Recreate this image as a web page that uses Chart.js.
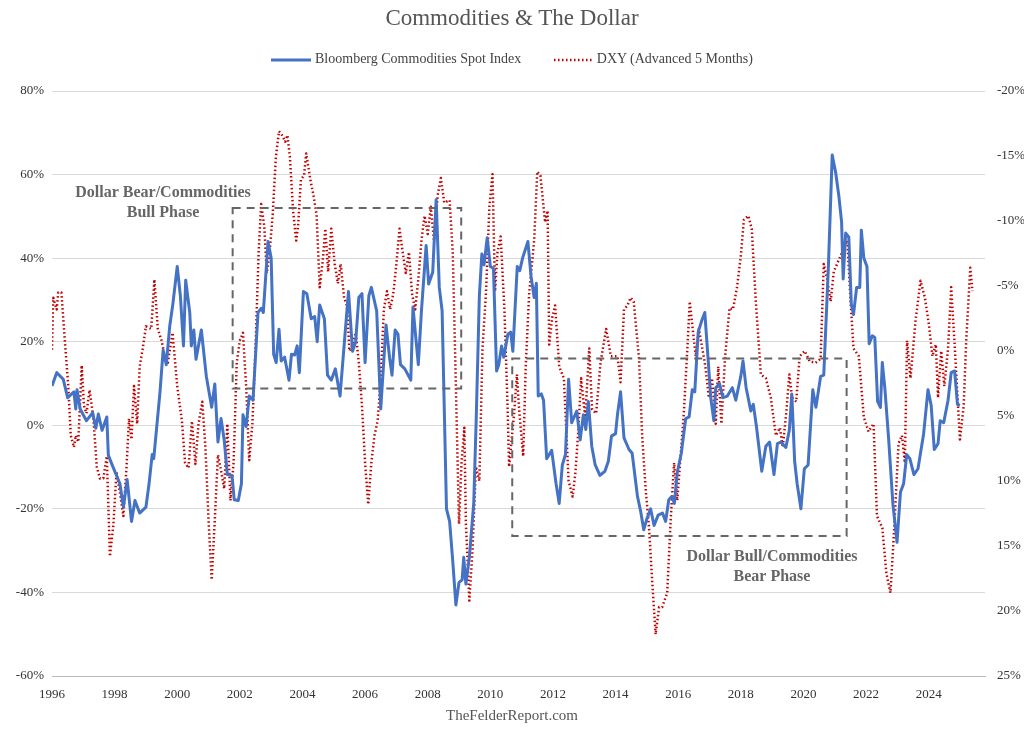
<!DOCTYPE html>
<html>
<head>
<meta charset="utf-8">
<script src="https://cdn.jsdelivr.net/npm/chart.js@4/dist/chart.umd.min.js"></script>
<style>
  body { margin: 0; background: #fff; font-family: "Liberation Serif", serif; }
  #wrap { position: relative; width: 1024px; height: 738px; }
  #title { position: absolute; top: 5px; width: 100%; text-align: center; font-size: 23px; color: #555; }
  #legend { position: absolute; top: 51px; width: 100%; text-align: center; font-size: 14px; color: #444; }
  #legend span { margin: 0 14px; }
  #legend svg { vertical-align: middle; margin-right: 4px; }
  #foot { position: absolute; top: 707px; width: 100%; text-align: center; font-size: 15px; color: #555; }
  canvas { position: absolute; left: 0; top: 0; }
</style>
</head>
<body>
<div id="wrap">
  <canvas id="grafico" width="1024" height="738"></canvas>
  <div id="title">Commodities &amp; The Dollar</div>
  <div id="legend">
    <span><svg width="40" height="6"><line x1="0" y1="3" x2="40" y2="3" stroke="#4472C4" stroke-width="3"/></svg>Bloomberg Commodities Spot Index</span>
    <span><svg width="40" height="6"><line x1="1" y1="3" x2="40" y2="3" stroke="#C00000" stroke-width="2.5" stroke-dasharray="1.5 2.5"/></svg>DXY (Advanced 5 Months)</span>
  </div>
  <div id="foot">TheFelderReport.com</div>
</div>
<script>
const commodYears = [1996.0,1996.15,1996.36,1996.5,1996.7,1996.76,1996.8,1996.9,1997.1,1997.3,1997.4,1997.48,1997.6,1997.75,1997.8,1997.95,1998.17,1998.28,1998.4,1998.54,1998.65,1998.8,1999.0,1999.1,1999.2,1999.25,1999.45,1999.55,1999.65,1999.76,1999.86,2000.0,2000.1,2000.2,2000.27,2000.4,2000.45,2000.53,2000.6,2000.77,2000.93,2001.1,2001.2,2001.3,2001.4,2001.5,2001.6,2001.75,2001.82,2001.95,
  2002.05,2002.1,2002.2,2002.3,2002.42,2002.58,2002.68,2002.75,2002.9,2003.0,2003.08,2003.16,2003.25,2003.32,2003.43,2003.57,2003.65,2003.75,2003.83,2003.9,2004.03,2004.14,2004.28,2004.39,2004.47,2004.55,2004.7,2004.8,2004.92,2005.05,2005.2,2005.34,2005.47,2005.6,2005.7,2005.8,2005.9,2006.0,2006.12,2006.2,2006.37,2006.5,2006.67,2006.78,2006.86,2006.96,2007.05,2007.13,2007.27,2007.46,2007.53,2007.7,2007.8,2007.95,
  2008.03,2008.16,2008.27,2008.37,2008.46,2008.6,2008.7,2008.8,2008.9,2009.0,2009.1,2009.15,2009.22,2009.33,2009.47,2009.55,2009.65,2009.73,2009.8,2009.9,2010.0,2010.1,2010.2,2010.27,2010.36,2010.43,2010.56,2010.65,2010.72,2010.86,2010.94,2011.03,2011.2,2011.3,2011.4,2011.47,2011.53,2011.63,2011.7,2011.8,2011.96,2012.1,2012.2,2012.3,2012.4,2012.5,2012.6,2012.76,2012.87,2012.97,2013.05,2013.13,2013.24,2013.35,2013.5,2013.66,2013.77,2013.87,
  2014.0,2014.06,2014.16,2014.27,2014.43,2014.53,2014.7,2014.8,2014.9,2015.0,2015.12,2015.23,2015.36,2015.5,2015.6,2015.7,2015.8,2015.88,2015.97,2016.1,2016.24,2016.35,2016.45,2016.53,2016.64,2016.75,2016.85,2016.96,2017.04,2017.14,2017.2,2017.32,2017.43,2017.57,2017.73,2017.84,2018.0,2018.07,2018.17,2018.32,2018.4,2018.5,2018.67,2018.8,2018.92,2019.06,2019.17,2019.28,2019.44,2019.55,2019.63,2019.72,2019.8,2019.92,
  2020.03,2020.15,2020.3,2020.4,2020.55,2020.65,2020.8,2020.92,2021.03,2021.13,2021.22,2021.27,2021.35,2021.45,2021.53,2021.6,2021.7,2021.8,2021.85,2021.93,2022.03,2022.1,2022.2,2022.28,2022.37,2022.46,2022.52,2022.6,2022.72,2022.86,2022.99,2023.1,2023.2,2023.3,2023.4,2023.53,2023.66,2023.84,2023.98,2024.08,2024.18,2024.3,2024.37,2024.48,2024.62,2024.72,2024.83,2024.92,2025.0];
const commodValues = [9.4,12.6,11,6.6,8,3.9,8.5,3.9,1.1,3,-0.7,2.7,-1.2,2,-7.2,-10,-14,-19.6,-13,-23,-18,-21,-19.6,-14,-7,-8,8,18,14.5,23.7,29,38,31,19,34.7,27,19,22.8,15.8,22.8,11.7,4.3,9.9,-4,1.6,-3.5,-11.8,-12,-17.8,-18,
  -14,2.5,-0.3,7,6,27,28,27,44,40,17,15,23,15.4,16.3,10.8,17,16.8,19,12.6,32,31.5,25.5,26,20,28.8,25.5,12,10.8,13.5,7,20,32,17.7,20,30.6,31.5,15,31,33,27.4,3.9,24,16.3,12,22.8,21.8,14.5,13.5,10.8,28.3,14.5,27.4,43,
  33.8,36.6,54,33,27.4,-20,-23,-32.5,-43,-37.6,-37,-31.6,-38,-31.6,-18.7,1.6,31,41,38.4,44.9,38,37.5,13,14.5,19,16.3,21.8,22.3,17.7,38,37,40,44,35.7,30.6,34,7,7.5,6,-8,-6,-14,-18.7,-9.5,-7,11,0.6,3.4,-3.5,2.5,-1,5.7,-5,-9.5,-12,-11,-8.6,-2.6,
  -2,2.5,8,-3,-5.8,-6.7,-17,-20.5,-25,-22.4,-20,-24,-21.5,-21,-23,-17.8,-17,-18.7,-11.3,-6.7,1.6,2,8.5,8,22.3,25,27,15.4,6.6,1.1,9,10,6.6,7,9,6,11.7,15.4,9,3.4,5,-0.3,-11,-5,-4,-11.8,-4.4,-4,-5.3,-1.2,7.5,-8.6,-14,-20,
  -10.4,-9.5,8.5,4.3,11.7,12,38.4,64.7,60.5,55,48.6,35,46,45,29,26.5,33,33,46.7,40,38,19.5,21.4,21,5.7,4.3,15,9,-3,-19,-28,-16,-14,-7,-8,-11.8,-10.4,-2,8.5,4.8,-5.8,-4.4,1.1,0.6,6,12.6,13,5,4.8];

const dxyYears = [1996.0,1996.04,1996.15,1996.2,1996.3,1996.41,1996.52,1996.6,1996.7,1996.76,1996.84,1996.95,1997.02,1997.1,1997.2,1997.32,1997.43,1997.53,1997.64,1997.75,1997.85,1997.96,1998.06,1998.17,1998.28,1998.38,1998.46,1998.54,1998.62,1998.72,1998.8,1998.9,1999.0,1999.17,1999.27,1999.38,1999.5,1999.6,1999.7,1999.85,2000.0,2000.15,2000.25,2000.36,2000.47,2000.58,2000.68,2000.8,2000.9,2001.0,2001.1,2001.2,2001.3,2001.4,2001.5,2001.6,2001.7,2001.8,2001.9,
  2002.0,2002.1,2002.2,2002.3,2002.4,2002.5,2002.6,2002.68,2002.78,2002.86,2002.95,2003.05,2003.15,2003.25,2003.35,2003.45,2003.52,2003.6,2003.7,2003.8,2003.86,2003.95,2004.05,2004.12,2004.25,2004.35,2004.45,2004.55,2004.65,2004.73,2004.82,2004.92,2005.03,2005.13,2005.22,2005.33,2005.42,2005.5,2005.6,2005.7,2005.8,2005.9,2006.0,2006.1,2006.2,2006.3,2006.4,2006.5,2006.6,2006.7,2006.8,2006.9,2007.0,2007.1,2007.2,2007.3,2007.4,2007.5,2007.6,2007.7,2007.8,2007.9,
  2008.0,2008.1,2008.2,2008.32,2008.42,2008.53,2008.7,2008.8,2008.9,2009.0,2009.08,2009.17,2009.22,2009.33,2009.43,2009.54,2009.65,2009.75,2009.86,2009.97,2010.07,2010.15,2010.23,2010.33,2010.45,2010.55,2010.6,2010.76,2010.85,2010.92,2011.05,2011.13,2011.24,2011.4,2011.5,2011.6,2011.75,2011.83,2011.88,2011.98,2012.07,2012.2,2012.35,2012.5,2012.63,2012.72,2012.8,2012.9,2013.03,2013.16,2013.25,2013.38,2013.52,2013.7,2013.85,
  2014.0,2014.06,2014.16,2014.27,2014.38,2014.48,2014.58,2014.75,2014.85,2014.96,2015.07,2015.17,2015.28,2015.39,2015.49,2015.65,2015.76,2015.87,2015.97,2016.08,2016.18,2016.3,2016.37,2016.45,2016.56,2016.66,2016.77,2016.87,2016.98,2017.08,2017.2,2017.28,2017.38,2017.5,2017.64,2017.75,2017.88,2018.0,2018.1,2018.24,2018.35,2018.48,2018.64,2018.8,2018.96,2019.12,2019.25,2019.34,2019.45,2019.55,2019.64,2019.77,2019.88,
  2020.04,2020.2,2020.39,2020.55,2020.65,2020.76,2020.87,2020.97,2021.13,2021.24,2021.4,2021.5,2021.6,2021.77,2021.93,2022.08,2022.24,2022.35,2022.52,2022.65,2022.78,2022.88,2023.04,2023.15,2023.24,2023.31,2023.42,2023.58,2023.74,2023.88,2024.01,2024.12,2024.23,2024.3,2024.4,2024.5,2024.62,2024.72,2024.83,2024.93,2025.0,2025.12,2025.2,2025.33,2025.4];
const dxyValues = [-0.1,-4.1,-3.2,-4.5,-4.5,-0.8,2.7,6.5,7.4,6.5,7,1.1,4.2,4.8,3,5.1,8.9,9.8,9.8,8.1,15.8,13.4,9.3,10.9,12.7,8.9,5.2,6.8,2.7,5.6,1.2,-0.2,-1.9,-1.7,-5.5,-1.7,-0.8,0.4,0.9,-1.4,2.7,5.4,8.6,9,5.4,8.7,5.6,3.9,7.4,13,17.6,13,8,9.2,10.6,5.6,11.5,8.6,0.9,
  -0.8,-1.4,2.7,8.4,5.6,-0.2,-7.6,-11.3,-9.6,-6,-7.6,-10.5,-14.9,-16.9,-16.6,-16.1,-16.6,-14.9,-10.8,-8.5,-9.6,-13.2,-13.5,-15.2,-13.2,-12,-10.5,-4.9,-7,-9.4,-6.1,-9.4,-6.7,-5.2,-6.7,-4.1,-3.5,0,-0.5,-1.4,0.9,4.2,8.6,11.8,8.6,6.5,5.4,2.1,-3.2,-4.6,-3.2,-4.4,-6.7,-9.4,-7.6,-6,-7.6,-4.4,-3.2,-5.5,-8.5,-10.4,
  -9,-11.1,-8.5,-12,-13.3,-11.4,-11.6,-7.6,2.7,13.3,8.6,5.9,13.3,19.2,15.4,8.9,10,-0.2,-4.4,-11.1,-13.6,-4.6,-7.6,-8.8,-3.2,4.2,8.9,4.8,1.8,4.5,8.1,1.2,-4.4,-8.5,-13.8,-13.5,-9.9,-10.8,-0.5,-2.6,-3.5,1.2,2.1,10,11.2,9.3,6.5,2.1,5.1,-0.2,4.5,4.8,0.9,-1.7,0.4,
  0.4,0.4,2.4,-3.2,-3.5,-4.1,-3.8,0.6,6.5,10.6,13.6,17.7,21.8,19.7,19.7,18.6,13,8.6,11.5,8,4.8,-0.5,-3.8,-2,0.4,-1.7,-0.2,1.2,3.6,2.1,5.6,1.2,5.6,0.4,-3.3,-3.2,-4.9,-7.3,-10.1,-10.4,-9.4,-3.8,1.8,2.1,3.6,6.5,5.9,7.4,4.8,1.8,3.6,3.9,0.4,
  0,0.8,0.9,0.6,-6.7,-5.5,-3.8,-6.1,-7,-7.6,-8.5,-4.1,-0.2,0.4,5.1,6.2,5.6,12.7,13.6,17.1,18.6,14.5,7.1,6.5,8.6,-0.8,2.1,-2.3,-5.4,-4.1,-2,0.4,-0.5,3.6,0,2.7,-0.2,-4.9,-0.5,3.9,6.8,4.2,-0.8,-6.4,-4.6];

// cuadros de fase: [añoInicio, añoFin, arriba%, abajo%]
const faseAlcista = [2001.77, 2009.07, 52, 8.8];
const faseBajista = [2010.7, 2021.38, 16, -26.5];
const leftTicks = [-60, -40, -20, 0, 20, 40, 60, 80];
const yearTicks = [1996, 1998, 2000, 2002, 2004, 2006, 2008, 2010, 2012, 2014, 2016, 2018, 2020, 2022, 2024];

function pares(xs, ys) {
  return xs.map((x, i) => ({ x: x, y: ys[i] }));
}

const fuente = "'Liberation Serif', serif";

const pluginFases = {
  id: "fases",
  afterDatasetsDraw(chart) {
    const ctx = chart.ctx;
    const sx = chart.scales.x, sy = chart.scales.y;
    ctx.save();
    ctx.strokeStyle = "#666";
    ctx.lineWidth = 2;
    ctx.setLineDash([8, 6]);
    [faseAlcista, faseBajista].forEach((f) => {
      const x1 = sx.getPixelForValue(f[0]), x2 = sx.getPixelForValue(f[1]);
      const y1 = sy.getPixelForValue(f[2]), y2 = sy.getPixelForValue(f[3]);
      ctx.strokeRect(x1, y1, x2 - x1, y2 - y1);
    });
    ctx.setLineDash([]);
    ctx.fillStyle = "#666";
    ctx.font = "bold 16px " + fuente;
    ctx.textAlign = "center";
    ctx.textBaseline = "middle";
    ctx.fillText("Dollar Bear/Commodities", 163, 193);
    ctx.fillText("Bull Phase", 163, 213);
    ctx.fillText("Dollar Bull/Commodities", 772, 557);
    ctx.fillText("Bear Phase", 772, 577);
    ctx.restore();
  },
};

const ctx = document.getElementById("grafico").getContext("2d");
new Chart(ctx, {
  type: "line",
  data: {
    datasets: [
      {
        label: "Bloomberg Commodities Spot Index",
        data: pares(commodYears, commodValues),
        borderColor: "#4472C4",
        borderWidth: 3,
        borderJoinStyle: "round",
        pointRadius: 0,
        tension: 0,
        yAxisID: "y",
        order: 1,
      },
      {
        label: "DXY (Advanced 5 Months)",
        data: pares(dxyYears, dxyValues),
        borderColor: "#C00000",
        borderWidth: 2.5,
        borderDash: [1.5, 2.5],
        borderJoinStyle: "round",
        pointRadius: 0,
        tension: 0,
        yAxisID: "y2",
        order: 2,
      },
    ],
  },
  options: {
    animation: false,
    responsive: false,
    layout: { padding: { top: 91, bottom: 32, left: 0, right: 0 } },
    plugins: { legend: { display: false }, tooltip: { enabled: false } },
    scales: {
      x: {
        type: "linear",
        min: 1996,
        max: 2025.8,
        afterBuildTicks: (s) => { s.ticks = yearTicks.map((v) => ({ value: v })); },
        grid: { display: false, drawTicks: true },
        border: { color: "#bbb" },
        ticks: {
          autoSkip: false,
          maxRotation: 0,
          color: "#333",
          font: { family: fuente, size: 13 },
          callback: (v) => String(v),
        },
        afterFit: (s) => { s.height = 30; },
      },
      y: {
        position: "left",
        min: -60,
        max: 80,
        afterBuildTicks: (s) => { s.ticks = leftTicks.map((v) => ({ value: v })); },
        grid: { color: "#d9d9d9", drawTicks: false },
        border: { display: false },
        ticks: {
          color: "#333",
          padding: 8,
          font: { family: fuente, size: 13 },
          callback: (v) => v + "%",
        },
        afterFit: (s) => { s.width = 52; },
      },
      y2: {
        position: "right",
        min: -20,
        max: 25,
        reverse: true,
        grid: { display: false },
        border: { display: false },
        ticks: {
          stepSize: 5,
          color: "#333",
          padding: 4,
          font: { family: fuente, size: 13 },
          callback: (v) => v + "%",
        },
        afterFit: (s) => { s.width = 39; },
      },
    },
  },
  plugins: [pluginFases],
});
</script>
</body>
</html>
